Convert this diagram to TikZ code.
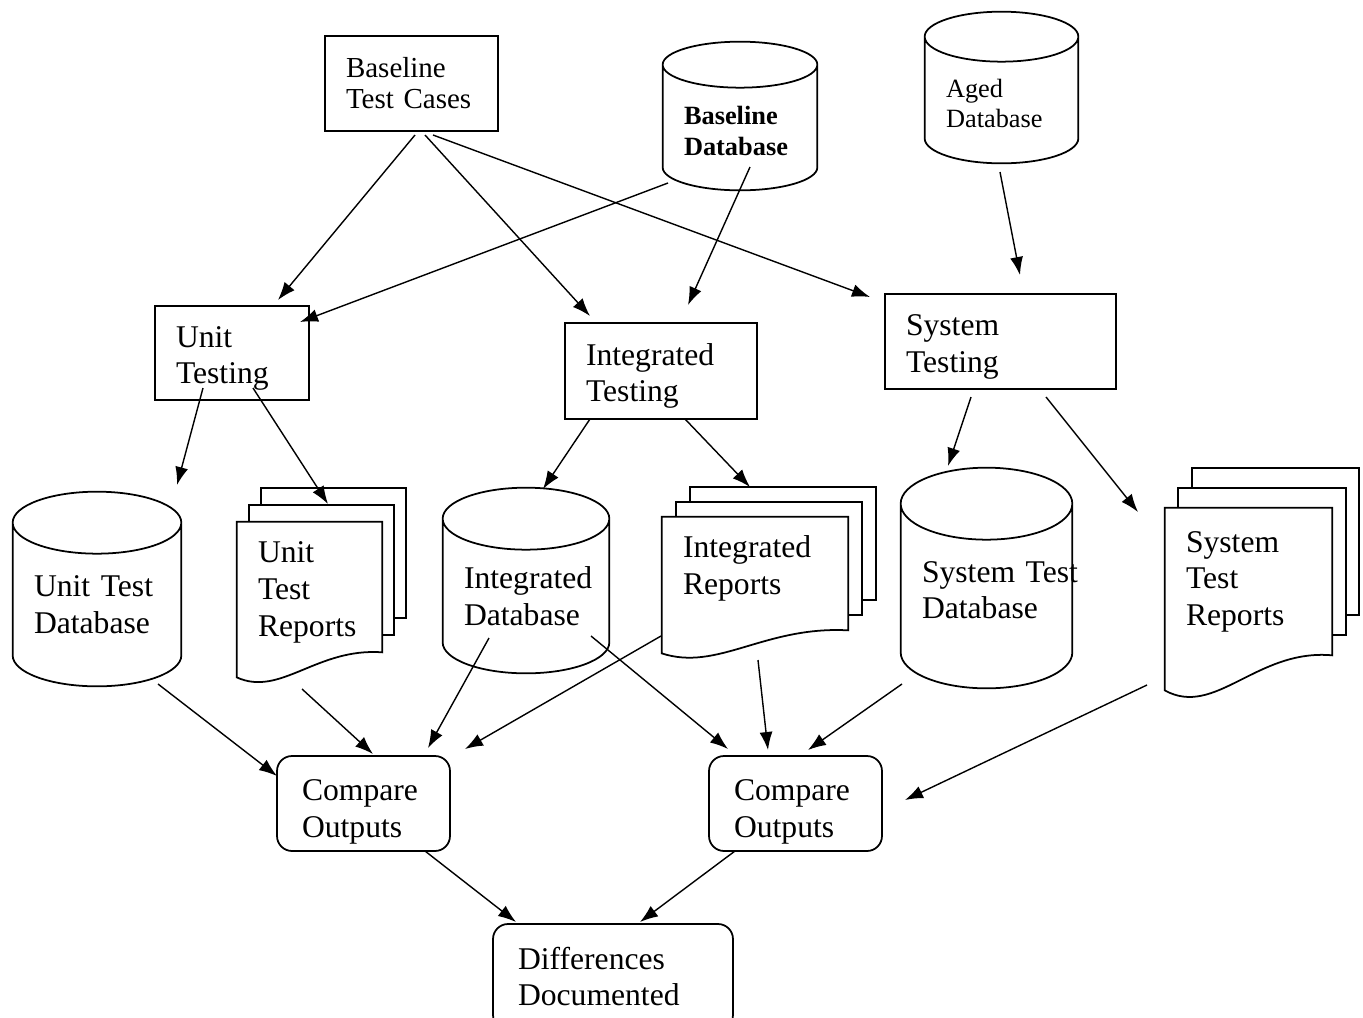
\documentclass[tikz,border=0pt]{standalone}
\usepackage{fontspec}
\setmainfont{Liberation Serif}
\usetikzlibrary{arrows.meta,calc,backgrounds}
\hyphenpenalty=10000
\exhyphenpenalty=10000

\newcommand{\bodyfont}{\fontsize{18}{20.8}\selectfont}

% cylinder round a node: #1 node, #2 half height of the cap
\newcommand{\dbshape}[2]{%
  \draw[line width=1pt] let \p1=(#1.north west), \p2=(#1.south east) in
    (#1.north) ellipse [x radius={(\x2-\x1)/2}, y radius=#2]
    (\x1,\y1) -- (\x1,{\y2+#2})
    arc [start angle=180, end angle=360, x radius={(\x2-\x1)/2}, y radius=#2]
    -- (\x2,\y1);
}

% pile of pages round a node: #1 node, #2 #3 step of the pages, #4 wave
\newcommand{\docstack}[4]{%
  \begin{scope}[on background layer]
    \foreach \k in {2,1}
      \draw[line width=1pt,fill=white] let \p1=(#1.north west), \p2=(#1.south east) in
        ({\x1+\k*#2},{\y1+\k*#3}) rectangle ({\x2+\k*#2},{\y2+\k*#3});
    \draw[line width=1pt,fill=white] let \p1=(#1.north west), \p2=(#1.south east) in
      (\x1,\y1) -- (\x2,\y1) -- (\x2,\y2)
      .. controls ({\x1+0.55*(\x2-\x1)},{\y2+0.2*#4}) and ({\x1+0.3*(\x2-\x1)},{\y2-1.8*#4}) .. (\x1,{\y2-#4})
      -- cycle;
  \end{scope}
}

\tikzset{
  box/.style={draw, line width=1pt, inner xsep=0.42cm, inner ysep=0pt, align=left, font=\bodyfont, text height=18pt},
  rbox/.style={box, rounded corners=0.3cm, inner xsep=0.5cm, text height=21.4pt},
  dbase/.style={inner xsep=0.42cm, inner ysep=0pt, align=left, font=\bodyfont},
  page/.style={dbase},
  arr/.style={-{Latex[length=0.36cm,width=0.26cm]}, line width=0.8pt},
}

\begin{document}
\begin{tikzpicture}[x=0.02cm,y=0.02cm]
  \useasboundingbox (0,0) rectangle (1363,-1018);

  % inputs
  \node[box, text width=2.62cm, minimum height=1.9cm, font=\fontsize{16.5}{18}\selectfont, text height=11pt] (btc) at (411.5,-83.5) {Baseline\\Test Cases};
  \node[dbase, text width=2.24cm, minimum height=2.5cm, font=\bfseries\fontsize{15}{18}\selectfont, text height=14.5pt] (bdb) at (740,-127.5) {Baseline\\Database};
  \node[dbase, text width=2.22cm, minimum height=2.52cm, font=\fontsize{15}{17}\selectfont, text height=14.5pt] (adb) at (1001.5,-100) {Aged\\Database};

  % testing steps
  \node[box, text width=2.24cm, minimum height=1.88cm] (unit) at (232,-353) {Unit\\Testing};
  \node[box, text width=3.0cm, minimum height=1.92cm] (integ) at (661,-371) {Integrated\\Testing};
  \node[box, text width=3.78cm, minimum height=1.9cm] (system) at (1000.5,-341.5) {System\\Testing};

  % outputs
  \node[dbase, text width=2.52cm, minimum height=3.26cm] (udb) at (97,-604.5) {Unit~Test\\Database};
  \node[page, text width=2.06cm, minimum height=2.6cm, text height=18pt] (urep) at (309.5,-587) {Unit\\Test\\Reports};
  \node[dbase, text width=2.48cm, minimum height=3.08cm] (idb) at (526,-596) {Integrated\\Database};
  \node[page, text width=2.88cm, minimum height=2.26cm, text height=6.6pt] (irep) at (755,-573.5) {Integrated\\Reports};
  \node[dbase, text width=2.58cm, minimum height=3.68cm, text height=5.5pt] (sdb) at (986.5,-596) {System~Test\\Database};
  \node[page, text width=2.5cm, minimum height=2.94cm] (srep) at (1248.5,-581.5) {System\\Test\\Reports};

  % comparison
  \node[rbox, text width=2.46cm, minimum height=1.9cm] (cmp1) at (363.5,-803.5) {Compare\\Outputs};
  \node[rbox, text width=2.46cm, minimum height=1.9cm] (cmp2) at (795.5,-803.5) {Compare\\Outputs};
  \node[rbox, text width=3.8cm, minimum height=2.12cm, text height=12pt] (diff) at (613,-977) {Differences\\Documented};

  \dbshape{bdb}{0.46cm}
  \dbshape{adb}{0.5cm}
  \dbshape{udb}{0.62cm}
  \dbshape{idb}{0.62cm}
  \dbshape{sdb}{0.72cm}
  \docstack{urep}{0.24cm}{0.34cm}{0.5cm}
  \docstack{irep}{0.28cm}{0.3cm}{0.46cm}
  \docstack{srep}{0.27cm}{0.4cm}{0.7cm}

  \begin{scope}[every edge/.style={draw,arr}]
    \path ($(btc)+(3.5,-51.5)$)   edge ($(unit)+(46,53)$);
    \path ($(btc)+(13.5,-51.5)$)  edge ($(integ)+(-71,55)$);
    \path ($(btc)+(21.5,-51.5)$)  edge ($(system)+(-130.5,44.5)$);
    \path ($(bdb)+(-72,-55.5)$)   edge ($(unit)+(68,31)$);
    \path ($(bdb)+(10,-39.5)$)    edge ($(integ)+(27,66)$);
    \path ($(adb)+(-1.5,-72)$)    edge ($(system)+(19.5,66.5)$);

    \path ($(unit)+(-29,-35)$)    edge ($(udb)+(80,119.5)$);
    \path ($(unit)+(21,-35)$)     edge ($(urep)+(18.5,83)$);
    \path ($(integ)+(-71,-48)$)   edge ($(idb)+(17,107)$);
    \path ($(integ)+(24,-48)$)    edge ($(irep)+(-5,86.5)$);
    \path ($(system)+(-29.5,-55.5)$) edge ($(sdb)+(-38.5,130)$);
    \path ($(system)+(45.5,-55.5)$)  edge ($(srep)+(-110.5,69.5)$);

    \path ($(udb)+(61,-79.5)$)    edge ($(cmp1)+(-86.5,27.5)$);
    \path ($(urep)+(-7.5,-102)$)  edge ($(cmp1)+(9.5,49.5)$);
    \path ($(idb)+(-37,-42)$)     edge ($(cmp1)+(64.5,55.5)$);
    \path ($(irep)+(-94,-62.5)$)  edge ($(cmp1)+(101.5,54.5)$);
    \path ($(idb)+(65,-40)$)      edge ($(cmp2)+(-67.5,54.5)$);
    \path ($(irep)+(3,-86.5)$)    edge ($(cmp2)+(-27.5,53.5)$);
    \path ($(sdb)+(-84.5,-88)$)   edge ($(cmp2)+(12.5,53.5)$);
    \path ($(srep)+(-101.5,-103.5)$) edge ($(cmp2)+(109.5,3.5)$);

    \path ($(cmp1)+(61.5,-47.5)$) edge ($(diff)+(-97,55)$);
    \path ($(cmp2)+(-60.5,-47.5)$) edge ($(diff)+(27,55)$);
  \end{scope}

\end{tikzpicture}
\end{document}
